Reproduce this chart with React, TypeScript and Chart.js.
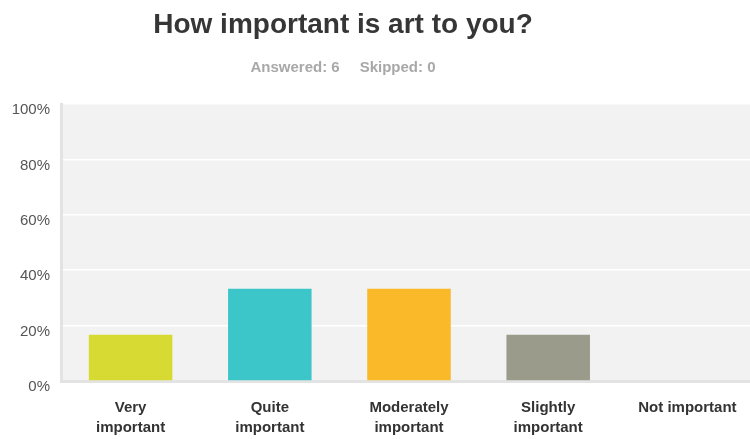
import React, { useEffect, useRef } from "react";
import { Chart, registerables } from "chart.js";

Chart.register(...registerables);

const TITLE = "How important is art to you?";
const SUBTITLE_PARTS = ["Answered: 6", "Skipped: 0"];
const CATEGORIES: string[][] = [
  ["Very", "important"],
  ["Quite", "important"],
  ["Moderately", "important"],
  ["Slightly", "important"],
  ["Not important"],
];
const VALUES = [16.67, 33.33, 33.33, 16.67, 0];
const BAR_COLORS = ["#d6da32", "#3cc6c9", "#f9b928", "#9b9b8b", "#cccccc"];
const Y_TICKS = [0, 20, 40, 60, 80, 100];

const FONT = '"Liberation Sans", Arial, Helvetica, sans-serif';

const backgroundAndTitle = {
  id: "backgroundAndTitle",
  beforeDraw(chart: any) {
    const { ctx, chartArea } = chart;
    ctx.save();
    ctx.fillStyle = "#f2f2f2";
    ctx.fillRect(chartArea.left, chartArea.top, chartArea.right - chartArea.left, chartArea.bottom - chartArea.top);
    ctx.restore();
  },
  afterDraw(chart: any) {
    const { ctx } = chart;
    const cx = 343;
    ctx.save();
    ctx.textAlign = "center";
    ctx.textBaseline = "alphabetic";
    ctx.fillStyle = "#363636";
    ctx.font = `bold 28px ${FONT}`;
    ctx.fillText(TITLE, cx, 33);
    ctx.font = `bold 15px ${FONT}`;
    ctx.fillStyle = "#a8a8a8";
    const gap = 20;
    const w0 = ctx.measureText(SUBTITLE_PARTS[0]).width;
    const w1 = ctx.measureText(SUBTITLE_PARTS[1]).width;
    const total = w0 + gap + w1;
    ctx.textAlign = "left";
    ctx.fillText(SUBTITLE_PARTS[0], cx - total / 2, 72);
    ctx.fillText(SUBTITLE_PARTS[1], cx - total / 2 + w0 + gap, 72);
    ctx.restore();
  },
};

export default function App() {
  const ref = useRef<HTMLCanvasElement | null>(null);
  useEffect(() => {
    if (!ref.current) return;
    const chart = new Chart(ref.current, {
      type: "bar",
      data: {
        labels: CATEGORIES,
        datasets: [
          {
            data: VALUES,
            backgroundColor: BAR_COLORS,
            borderWidth: 0,
            barPercentage: 1,
            categoryPercentage: 0.6,
          },
        ],
      },
      options: {
        responsive: false,
        animation: false,
        layout: { padding: { top: 104, left: 0, right: 0, bottom: 0 } },
        plugins: { legend: { display: false }, tooltip: { enabled: false }, title: { display: false } },
        scales: {
          x: {
            grid: { display: false, drawTicks: false },
            border: { display: true, color: "#e3e3e3", width: 3 },
            ticks: {
              padding: 17,
              maxRotation: 0,
              autoSkip: false,
              color: "#333333",
              font: { family: FONT, size: 15, weight: "bold", lineHeight: 1.34 },
            },
            afterFit(scale: any) {
              scale.height = 58;
            },
          },
          y: {
            min: 0,
            max: 100,
            afterBuildTicks(scale: any) {
              scale.ticks = Y_TICKS.map((v) => ({ value: v }));
            },
            grid: {
              drawTicks: false,
              color: (c: any) => (c.tick && c.tick.value === 0 ? "rgba(0,0,0,0)" : "#ffffff"),
              lineWidth: 1.5,
            },
            border: { display: true, color: "#e3e3e3", width: 3 },
            ticks: {
              padding: 11,
              labelOffset: 6,
              color: "#555555",
              font: { family: FONT, size: 15 },
              callback: (v: any) => `${v}%`,
            },
            afterFit(scale: any) {
              scale.width = 61;
            },
          },
        },
      },
      plugins: [backgroundAndTitle],
    });
    return () => chart.destroy();
  }, []);
  return (
    <div style={{ position: "fixed", left: 0, top: 0, width: 750, height: 439, overflow: "hidden", background: "#fff" }}>
      <canvas ref={ref} width={757} height={439} style={{ display: "block" }} />
    </div>
  );
}
